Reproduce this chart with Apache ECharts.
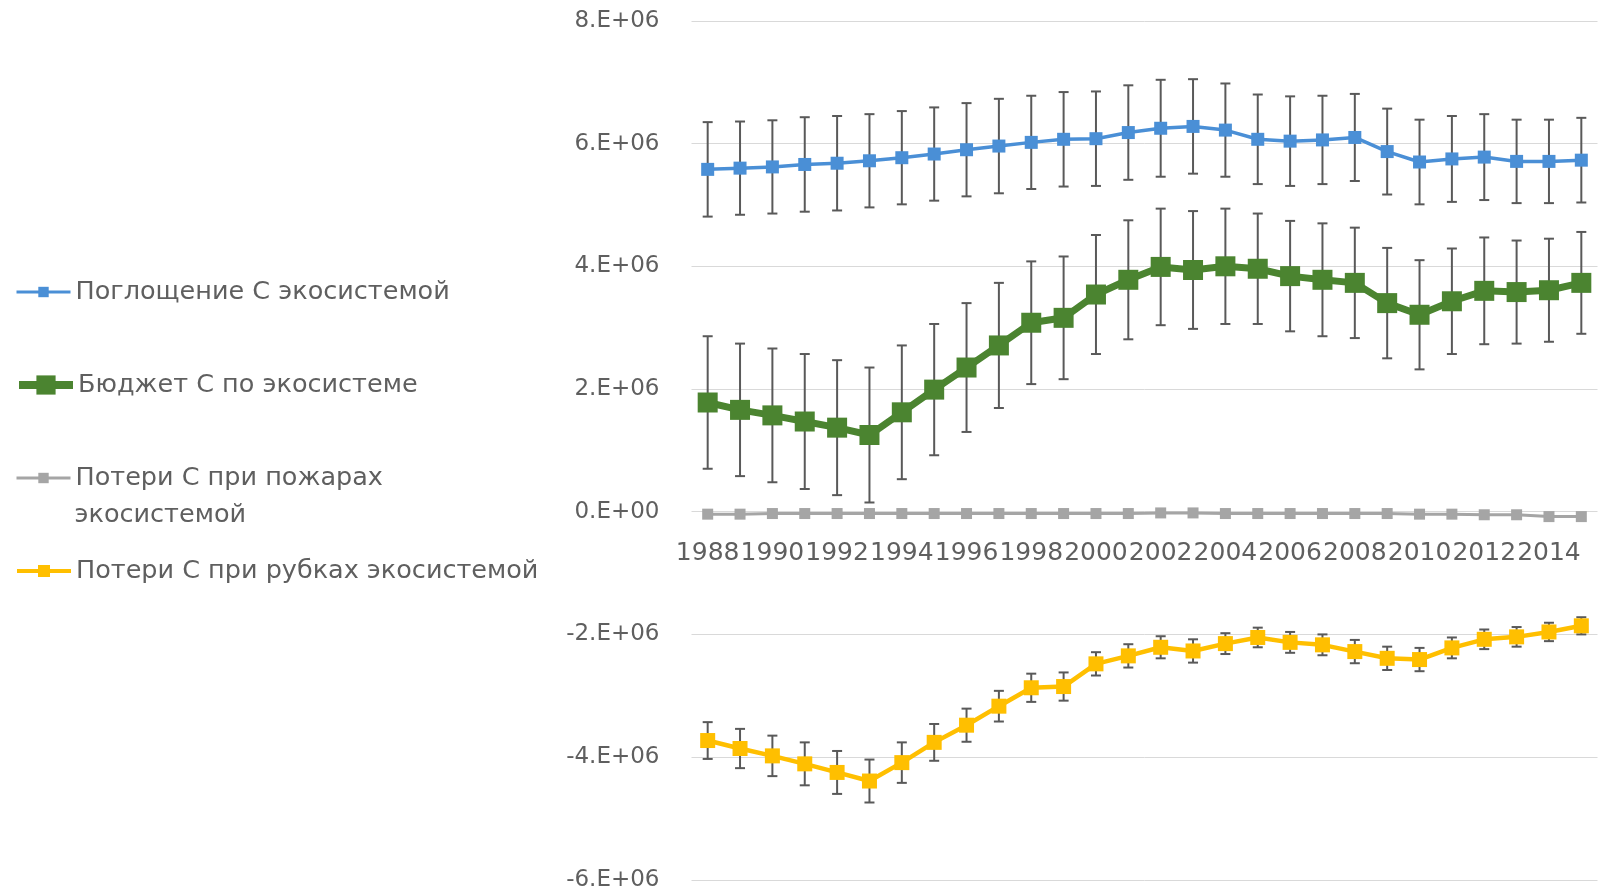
<!DOCTYPE html>
<html>
<head>
<meta charset="utf-8">
<script src="https://cdn.jsdelivr.net/npm/echarts@6/dist/echarts.min.js"></script>
<style>
html,body{margin:0;padding:0;background:#fff;}
#chart{width:1599px;height:890px;}
</style>
</head>
<body>
<div id="chart"></div>
<script>
// ---- data ----
const years = ['1988','1989','1990','1991','1992','1993','1994','1995','1996','1997','1998','1999','2000','2001','2002','2003','2004','2005','2006','2007','2008','2009','2010','2011','2012','2013','2014','2015'];

const uptakeName = 'Поглощение С экосистемой';
const uptake = [5.58e6,5.60e6,5.62e6,5.66e6,5.68e6,5.72e6,5.77e6,5.83e6,5.90e6,5.96e6,6.02e6,6.07e6,6.08e6,6.18e6,6.25e6,6.28e6,6.22e6,6.07e6,6.04e6,6.06e6,6.10e6,5.87e6,5.70e6,5.75e6,5.78e6,5.71e6,5.71e6,5.73e6];
const uptakeErr = [0.77e6,0.76e6,0.76e6,0.77e6,0.77e6,0.76e6,0.76e6,0.76e6,0.76e6,0.77e6,0.76e6,0.77e6,0.77e6,0.77e6,0.79e6,0.77e6,0.76e6,0.73e6,0.73e6,0.72e6,0.71e6,0.70e6,0.69e6,0.70e6,0.70e6,0.68e6,0.68e6,0.69e6];

const budgetName = 'Бюджет С по экосистеме';
const budget = [1.78e6,1.66e6,1.57e6,1.47e6,1.37e6,1.25e6,1.62e6,1.99e6,2.35e6,2.71e6,3.08e6,3.16e6,3.54e6,3.78e6,3.99e6,3.94e6,4.00e6,3.96e6,3.84e6,3.78e6,3.73e6,3.40e6,3.21e6,3.43e6,3.60e6,3.58e6,3.61e6,3.73e6];
const budgetErr = [1.08e6,1.08e6,1.09e6,1.10e6,1.10e6,1.10e6,1.09e6,1.07e6,1.05e6,1.02e6,1.00e6,1.00e6,0.97e6,0.97e6,0.95e6,0.96e6,0.94e6,0.90e6,0.90e6,0.92e6,0.90e6,0.90e6,0.89e6,0.86e6,0.87e6,0.84e6,0.84e6,0.83e6];

const fireName = 'Потери С при пожарах экосистемой';
const fire = [-0.04e6,-0.04e6,-0.03e6,-0.03e6,-0.03e6,-0.03e6,-0.03e6,-0.03e6,-0.03e6,-0.03e6,-0.03e6,-0.03e6,-0.03e6,-0.03e6,-0.02e6,-0.02e6,-0.03e6,-0.03e6,-0.03e6,-0.03e6,-0.03e6,-0.03e6,-0.04e6,-0.04e6,-0.05e6,-0.05e6,-0.08e6,-0.08e6];

const loggingName = 'Потери С при рубках экосистемой';
const logging = [-3.73e6,-3.86e6,-3.98e6,-4.11e6,-4.25e6,-4.39e6,-4.09e6,-3.76e6,-3.48e6,-3.17e6,-2.87e6,-2.85e6,-2.48e6,-2.35e6,-2.21e6,-2.27e6,-2.15e6,-2.05e6,-2.13e6,-2.17e6,-2.28e6,-2.39e6,-2.41e6,-2.22e6,-2.08e6,-2.04e6,-1.96e6,-1.86e6];
const loggingErr = [0.30e6,0.32e6,0.33e6,0.35e6,0.35e6,0.35e6,0.33e6,0.30e6,0.27e6,0.25e6,0.23e6,0.23e6,0.19e6,0.19e6,0.18e6,0.19e6,0.17e6,0.16e6,0.17e6,0.17e6,0.19e6,0.19e6,0.19e6,0.17e6,0.16e6,0.16e6,0.15e6,0.14e6];

const yTicks = {min:-6e6, max:8e6, interval:2e6};

// ---- helpers ----
const FONT = 'DejaVu Sans';
const TXT = '#5f5f5f';
const C_BLUE = '#4a8fd6', C_GREEN = '#4b8430', C_GRAY = '#a5a5a5', C_YELLOW = '#ffbf00';
const GRID = {left:691.5, right:1.5, top:20.9, bottom:10.2};
const CH = 890;
// distance (px) from the grid's bottom edge up to the zero line, for placing the category labels at y = 0
const plotH = CH - GRID.top - GRID.bottom;
const zeroOffset = plotH * (0 - yTicks.min) / (yTicks.max - yTicks.min);

function errData(vals, errs){ return vals.map((v,i)=>[i, v-errs[i], v+errs[i]]); }
function renderErr(params, api){
  const x = api.value(0);
  const lo = api.coord([x, api.value(1)]);
  const hi = api.coord([x, api.value(2)]);
  const w = 5;
  const st = {stroke:'#595959', lineWidth:2};
  return {type:'group', children:[
    {type:'line', shape:{x1:hi[0], y1:hi[1], x2:lo[0], y2:lo[1]}, style:st},
    {type:'line', shape:{x1:hi[0]-w, y1:hi[1], x2:hi[0]+w, y2:hi[1]}, style:st},
    {type:'line', shape:{x1:lo[0]-w, y1:lo[1], x2:lo[0]+w, y2:lo[1]}, style:st}
  ]};
}
function errSeries(name, vals, errs, z){
  return {name:name, type:'custom', renderItem:renderErr, data:errData(vals, errs),
    encode:{x:0, y:[1,2]}, z:z, silent:true};
}
function lineSeries(name, data, color, lw, size, z){
  return {name:name, type:'line', data:data, symbol:'rect', symbolSize:size,
    itemStyle:{color:color}, lineStyle:{color:color, width:lw}, z:z, silent:true};
}
function legendAt(name, centerY, color, lw, ih){
  return {data:[name], orient:'vertical', left:15, top:centerY - 15, padding:0,
    itemWidth:54, itemHeight:ih, itemGap:5, selectedMode:false,
    lineStyle:{width:lw, color:color}, itemStyle:{color:color},
    textStyle:{fontFamily:FONT, fontSize:25.5, color:TXT, lineHeight:30},
    formatter: function(n){ return n === fireName ? 'Потери С при пожарах' : n; }};
}

const chart = echarts.init(document.getElementById('chart'), null, {renderer:'canvas'});
chart.setOption({
  animation:false,
  backgroundColor:'#ffffff',
  grid:{left:GRID.left, right:GRID.right, top:GRID.top, bottom:GRID.bottom, containLabel:false, outerBoundsMode:'none'},
  legend:[
    legendAt(uptakeName, 292, C_BLUE, 3, 13),
    legendAt(budgetName, 385, C_GREEN, 8, 24),
    legendAt(fireName, 478, C_GRAY, 3, 13),
    legendAt(loggingName, 571, C_YELLOW, 4, 15)
  ],
  graphic:[{type:'text', left:74.5, top:502, style:{text:'экосистемой', font:'25.5px "DejaVu Sans"', fill:TXT}}],
  xAxis:{type:'category', data:years, boundaryGap:true, position:'bottom', offset:-zeroOffset,
    axisLine:{show:false, onZero:false}, axisTick:{show:false},
    axisLabel:{interval:1, fontFamily:FONT, fontSize:25, color:TXT, margin:29}},
  yAxis:{type:'value', min:yTicks.min, max:yTicks.max, interval:yTicks.interval,
    axisLine:{show:false}, axisTick:{show:false},
    splitLine:{lineStyle:{color:'#d9d9d9', width:1}},
    axisLabel:{fontFamily:FONT, fontSize:23, color:TXT, margin:32,
      formatter:function(v){ if(v===0) return '0.E+00'; return (v/1e6)+'.E+06'; }}},
  series:[
    errSeries('err1', uptake, uptakeErr, 2),
    lineSeries(uptakeName, uptake, C_BLUE, 3.5, 13, 3),
    errSeries('err2', budget, budgetErr, 4),
    lineSeries(budgetName, budget, C_GREEN, 7, 20, 5),
    lineSeries(fireName, fire, C_GRAY, 3, 11, 6),
    errSeries('err4', logging, loggingErr, 7),
    lineSeries(loggingName, logging, C_YELLOW, 4.5, 15, 8)
  ]
});
</script>
</body>
</html>
